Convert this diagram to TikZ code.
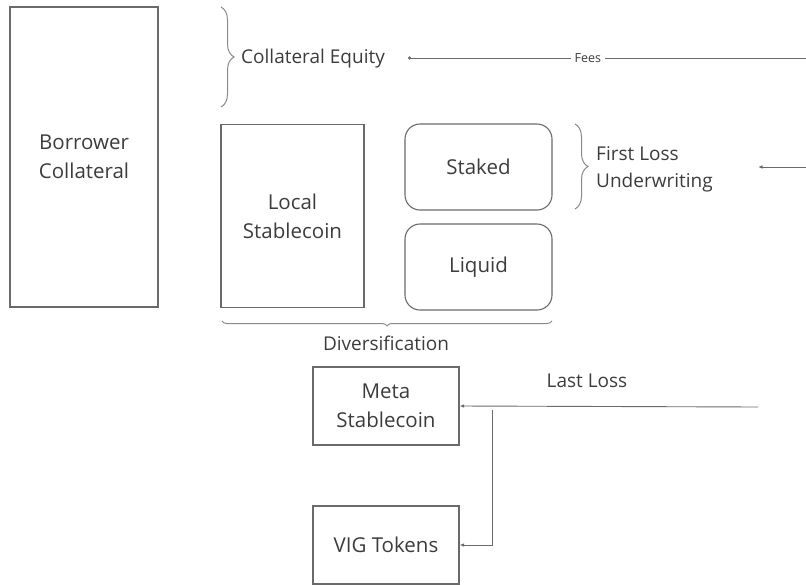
\documentclass[tikz,border=0pt]{standalone}
\usepackage{fontspec}
\setmainfont{Open Sans}
\usetikzlibrary{decorations.pathreplacing,arrows.meta}
\definecolor{edge}{HTML}{6A6A6A}
\definecolor{ink}{HTML}{3C3C3C}
\definecolor{bracegray}{HTML}{8A8A8A}
\begin{document}
\begin{tikzpicture}[x=1pt,y=-1pt,
  box/.style={draw=edge, line width=1.1pt, inner sep=0pt, align=center,
    text=ink, font=\fontsize{20.5}{29}\selectfont},
  rbox/.style={box, rounded corners=15pt},
  lbl/.style={text=ink, align=left, font=\fontsize{19}{27}\selectfont, inner sep=0pt},
  conn/.style={draw=edge, line width=0.9pt},
  tip/.style={-{Latex[length=4.5pt,width=3.5pt]}},
  curly/.style={draw=bracegray, line width=1pt, decorate}
]
\useasboundingbox (0,0) rectangle (806,584);

% boxes
\node[box, minimum width=148pt, minimum height=300pt] (borrower) at (84,157) {Borrower\\Collateral};
\node[box, minimum width=143pt, minimum height=183pt] (local) at (292.5,216) {Local\\Stablecoin};
\node[rbox, minimum width=147pt, minimum height=86pt] (staked) at (478.5,167) {Staked};
\node[rbox, minimum width=147pt, minimum height=86pt] (liquid) at (478.5,267) {Liquid};
\node[box, minimum width=146pt, minimum height=78pt] (meta) at (386,406) {Meta\\Stablecoin};
\node[box, minimum width=146pt, minimum height=78pt] (vig) at (386,545) {VIG Tokens};

% braces and their labels
\draw[curly, decoration={brace, amplitude=13pt}] (221,7) -- (221,107);
\node[lbl, anchor=west] (equity) at (241,59) {Collateral Equity};
\draw[curly, decoration={brace, amplitude=13pt}] (575,124) -- (575,209);
\node[lbl, anchor=west] (firstloss) at (596,169) {First Loss\\Underwriting};
\draw[curly, decoration={brace, amplitude=5pt}] (552,321) -- (222,321);
\node[lbl, anchor=center] (divers) at (386,343) {Diversification};

% fees line into collateral equity
\coordinate (feesR) at (806,58);
\coordinate (feesL) at (408,58);
\draw[conn, -{Circle[length=3.2pt]}] (feesR) -- node[fill=white, text=ink, inner sep=4pt,
  font=\fontsize{12.5}{14}\selectfont, pos=0.548] (fees) {Fees} (feesL);

% first loss incoming arrow
\coordinate (flR) at (806,167);
\coordinate (flL) at (758,167);
\draw[conn, tip] (flR) -- (flL);

% last loss arrows
\coordinate (llR) at (758,407);
\draw[conn, tip] (llR) -- (meta.east);
\node[lbl] (lastloss) at (587,381) {Last Loss};
\coordinate (split) at (492,410);
\draw[conn, tip] (split) |- (vig.east);
\end{tikzpicture}
\end{document}
